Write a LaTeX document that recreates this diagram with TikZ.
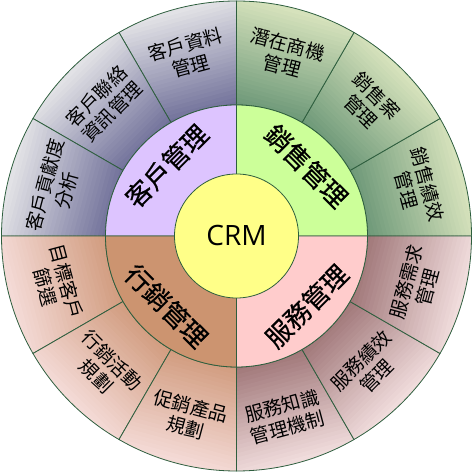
\documentclass[tikz,border=0pt]{standalone}
\usepackage{fontspec}
\newfontfamily\cjk{Noto Sans CJK TC}
\newfontfamily\cjkmid[FakeBold=0.5]{Noto Sans CJK TC}
\newfontfamily\latinfont{Open Sans}
\definecolor{edge}{HTML}{2E5E3E}
\definecolor{bluD}{HTML}{6E6E98}
\definecolor{bluL}{HTML}{E2E2E6}
\definecolor{grnD}{HTML}{6A9676}
\definecolor{grnL}{HTML}{D6E2BC}
\definecolor{salD}{HTML}{D09A7C}
\definecolor{salL}{HTML}{F4DAD6}
\definecolor{mauD}{HTML}{9E7476}
\definecolor{mauL}{HTML}{F0DCDC}
\definecolor{midP}{HTML}{DDC4FF}
\definecolor{midG}{HTML}{CCFF99}
\definecolor{midB}{HTML}{CC9470}
\definecolor{midK}{HTML}{FFCCCC}
\definecolor{yel}{HTML}{FFFF88}
\tikzset{
  border/.style={draw=edge, line width=0.8pt},
  outerlabel/.style={align=center, inner sep=0pt, font=\cjk\fontsize{19}{22}\selectfont},
  midlabel/.style={inner sep=0pt, font=\cjkmid\fontsize{26}{30}\selectfont},
}
\begin{document}
\begin{tikzpicture}[x=1pt,y=1pt]
\useasboundingbox (0,0) rectangle (473,473);
\coordinate (O) at (236.5,237);
\def\Ro{235}
\def\Rm{131}
\def\Ri{62}
% outer ring segments: linear gradient (dark inside, light outside) along the mid direction
\foreach \a/\dk/\lt in {90/bluD/bluL,120/bluD/bluL,150/bluD/bluL,
                        0/grnD/grnL,30/grnD/grnL,60/grnD/grnL,
                        180/salD/salL,210/salD/salL,240/salD/salL,
                        270/mauD/mauL,300/mauD/mauL,330/mauD/mauL}{
  \pgfmathsetmacro\b{\a+30}
  \pgfmathsetmacro\m{\a+15}
  \begin{scope}
    \clip ([shift={(\a:\Rm)}]O) -- ([shift={(\a:\Ro)}]O)
      arc[start angle=\a, end angle=\b, radius=\Ro]
      -- ([shift={(\b:\Rm)}]O)
      arc[start angle=\b, end angle=\a, radius=\Rm] -- cycle;
    \begin{scope}[shift={(O)}, rotate=\m]
      \foreach \i in {0,...,27}{
        \pgfmathsetmacro\t{100*\i/27}
        \pgfmathsetmacro\xa{122+4*\i}
        \fill[\lt!\t!\dk] (\xa,-70) rectangle ++(5,140);
      }
    \end{scope}
  \end{scope}
  \draw[border]
    ([shift={(\a:\Rm)}]O) -- ([shift={(\a:\Ro)}]O)
    arc[start angle=\a, end angle=\b, radius=\Ro]
    -- ([shift={(\b:\Rm)}]O)
    arc[start angle=\b, end angle=\a, radius=\Rm] -- cycle;
}
% middle ring
\foreach \a/\c in {90/midP,0/midG,180/midB,270/midK}{
  \pgfmathsetmacro\b{\a+90}
  \fill[\c, border] (O) -- ([shift={(\a:\Rm)}]O)
    arc[start angle=\a, end angle=\b, radius=\Rm] -- cycle;
}
% centre
\node[circle, fill=yel, border, minimum size=124pt, inner sep=0pt,
      font=\latinfont\fontsize{28}{32}\selectfont] (crm) at (O) {CRM};
% middle labels
\node[midlabel, rotate=45]  (m1) at ([shift={(135:99)}]O) {客戶管理};
\node[midlabel, rotate=-45] (m2) at ([shift={(45:99)}]O) {銷售管理};
\node[midlabel, rotate=-45] (m3) at ([shift={(225:99)}]O) {行銷管理};
\node[midlabel, rotate=45]  (m4) at ([shift={(315:99)}]O) {服務管理};
% outer labels
\node[outerlabel, rotate=15]  (o1)  at ([shift={(105:187)}]O) {客戶資料\\管理};
\node[outerlabel, rotate=45]  (o2)  at ([shift={(135:187)}]O) {客戶聯絡\\資訊管理};
\node[outerlabel, rotate=75]  (o3)  at ([shift={(165:187)}]O) {客戶貢獻度\\分析};
\node[outerlabel, rotate=-15] (o4)  at ([shift={(75:187)}]O) {潛在商機\\管理};
\node[outerlabel, rotate=-45] (o5)  at ([shift={(45:187)}]O) {銷售案\\管理};
\node[outerlabel, rotate=-75] (o6)  at ([shift={(15:187)}]O) {銷售績效\\管理};
\node[outerlabel, rotate=75]  (o7)  at ([shift={(-15:187)}]O) {服務需求\\管理};
\node[outerlabel, rotate=45]  (o8)  at ([shift={(-45:187)}]O) {服務績效\\管理};
\node[outerlabel, rotate=15]  (o9)  at ([shift={(-75:187)}]O) {服務知識\\管理機制};
\node[outerlabel, rotate=-15] (o10) at ([shift={(-105:187)}]O) {促銷產品\\規劃};
\node[outerlabel, rotate=-45] (o11) at ([shift={(-135:187)}]O) {行銷活動\\規劃};
\node[outerlabel, rotate=-75] (o12) at ([shift={(-165:187)}]O) {目標客戶\\篩選};
\end{tikzpicture}
\end{document}
